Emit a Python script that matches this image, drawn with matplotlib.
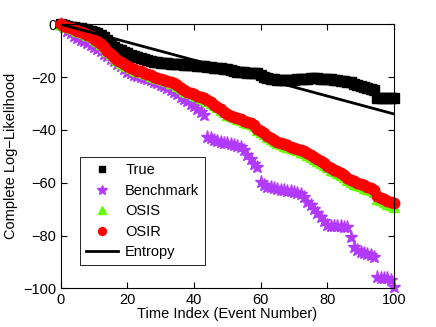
import numpy as np
import matplotlib
matplotlib.use('Agg')
import matplotlib.pyplot as plt

plt.rcParams['font.family'] = ['Liberation Sans', 'DejaVu Sans']

# Time index (event number)
t = np.arange(101)

true_ll = [0, -0.3, -0.6, -0.9, -1.1, -1.4, -1.6, -1.9, -2.2, -2.5,
           -3.0, -3.5, -4.0, -5.0, -6.0, -7.2, -8.5, -9.2, -9.9, -10.4,
           -11.0, -11.5, -12.0, -12.4, -12.9, -13.3, -13.6, -13.9, -14.2, -14.3,
           -14.5, -14.6, -14.8, -14.9, -15.0, -15.1, -15.2, -15.3, -15.4, -15.5,
           -15.6, -15.7, -15.9, -16.0, -16.1, -16.2, -16.4, -16.5, -16.7, -16.9,
           -17.1, -17.4, -17.7, -18.0, -18.1, -18.2, -18.3, -18.4, -18.5, -18.6,
           -19.2, -20.0, -20.5, -20.7, -20.9, -21.0, -21.0, -21.1, -21.1, -21.0,
           -21.0, -20.9, -20.8, -20.7, -20.6, -20.5, -20.4, -20.5, -20.6, -20.7,
           -20.8, -20.9, -21.0, -21.2, -21.4, -21.5, -21.7, -22.0, -22.5, -23.0,
           -23.4, -23.8, -24.1, -24.5, -25.0, -28.0, -28.0, -28.1, -28.1, -28.0,
           -28.0]

benchmark = [0, -1.2, -2.5, -3.5, -4.5, -5.2, -5.8, -6.4, -7.0, -7.8,
             -8.5, -9.3, -10.2, -11.1, -12.0, -13.0, -14.0, -15.0, -16.0, -17.0,
             -18.0, -18.6, -19.1, -19.6, -20.0, -20.4, -20.8, -21.2, -21.7, -22.3,
             -22.9, -23.5, -24.0, -24.8, -25.7, -26.6, -27.4, -28.3, -29.2, -30.1,
             -31.0, -32.2, -33.4, -34.4, -42.6, -43.2, -43.8, -44.2, -44.6, -44.8,
             -45.0, -45.4, -45.9, -46.2, -46.4, -47.8, -49.5, -51.2, -53.0, -54.0,
             -59.6, -60.8, -61.5, -61.8, -62.0, -62.3, -62.6, -62.8, -63.0, -63.2,
             -63.4, -63.7, -64.1, -65.5, -67.2, -68.5, -70.0, -71.6, -73.0, -74.5,
             -76.0, -76.2, -76.3, -76.4, -76.5, -76.6, -76.7, -80.5, -84.2, -85.3,
             -86.1, -86.7, -87.1, -87.5, -88.0, -95.8, -96.0, -96.1, -96.2, -97.0,
             -99.4]

osis = [0, -0.5, -1.0, -1.5, -2.0, -2.5, -3.0, -3.4, -3.9, -4.6,
        -5.5, -6.5, -7.6, -8.8, -10.0, -11.3, -12.5, -13.6, -14.5, -15.3,
        -16.0, -16.6, -17.2, -17.7, -18.0, -18.5, -19.0, -19.5, -20.0, -20.4,
        -20.8, -21.2, -21.6, -22.1, -22.4, -23.3, -24.2, -25.1, -25.7, -26.2,
        -26.7, -27.2, -27.8, -28.3, -28.9, -29.7, -30.6, -31.5, -32.4, -33.3,
        -34.2, -34.8, -35.3, -35.8, -36.3, -36.9, -37.5, -37.9, -38.7, -39.9,
        -40.9, -41.7, -42.6, -43.4, -44.2, -44.9, -45.5, -46.0, -46.4, -46.9,
        -47.3, -47.8, -48.2, -48.6, -49.4, -50.2, -50.9, -51.7, -52.5, -53.3,
        -54.2, -55.0, -55.7, -56.3, -57.0, -58.0, -59.1, -59.8, -60.3, -60.8,
        -61.4, -61.9, -62.4, -62.9, -63.5, -66.0, -66.7, -67.4, -68.0, -68.6,
        -69.2]

osir = [0, -0.5, -1.0, -1.5, -2.0, -2.5, -3.0, -3.4, -3.9, -4.6,
        -5.5, -6.5, -7.6, -8.8, -10.0, -11.3, -12.5, -13.5, -14.4, -15.2,
        -15.9, -16.5, -17.1, -17.6, -17.9, -18.4, -18.9, -19.4, -19.9, -20.3,
        -20.7, -21.1, -21.5, -22.0, -22.3, -23.2, -24.1, -25.0, -25.5, -26.0,
        -26.5, -27.0, -27.6, -28.1, -28.7, -29.5, -30.4, -31.3, -32.2, -33.1,
        -34.0, -34.6, -35.0, -35.5, -36.0, -36.6, -37.2, -37.5, -38.3, -39.5,
        -40.5, -41.3, -42.2, -43.0, -43.8, -44.5, -45.0, -45.5, -45.9, -46.4,
        -46.8, -47.2, -47.6, -48.0, -48.8, -49.6, -50.2, -51.0, -51.8, -52.6,
        -53.5, -54.3, -55.0, -55.6, -56.2, -57.2, -58.3, -59.0, -59.5, -60.0,
        -60.5, -61.0, -61.5, -62.0, -62.6, -65.0, -65.6, -66.2, -66.8, -67.3,
        -67.8]

# Entropy reference line: endpoints
entropy_t = [0, 100]
entropy = [0, -34]

fig = plt.figure(figsize=(4.36, 3.27), dpi=100)
ax = fig.add_axes([0.139, 0.118, 0.765, 0.808])

ax.plot(t, true_ll, 's', color='black', markersize=6.5, label='True', clip_on=False)
ax.plot(t, benchmark, '*', color='#B23AFF', markersize=9.5, label='Benchmark', clip_on=False)
ax.plot(t, osis, '^', color='#66FF00', markersize=7, label='OSIS', clip_on=False)
ax.plot(t, osir, 'o', color='#FF0000', markersize=7.5, label='OSIR', clip_on=False)
ax.plot(entropy_t, entropy, '-', color='black', linewidth=2, label='Entropy')

ax.set_xlim(0, 100)
ax.set_ylim(-100, 0)
ax.set_xticks([0, 20, 40, 60, 80, 100])
ax.set_yticks([-100, -80, -60, -40, -20, 0])
ax.set_yticklabels(['\u2212100', '\u221280', '\u221260', '\u221240', '\u221220', '0'])
ax.tick_params(direction='in', top=True, right=True, length=4, labelsize=10.5, pad=3)
for s in ax.spines.values():
    s.set_linewidth(0.8)

ax.set_xlabel('Time Index (Event Number)', fontsize=10.5, labelpad=0)
ax.set_ylabel('Complete Log\u2212Likelihood', fontsize=10.5, labelpad=4)

leg = ax.legend(loc='lower left', bbox_to_anchor=(0.058, 0.088), borderaxespad=0,
                fontsize=10.5, fancybox=False, edgecolor='black', framealpha=1,
                markerscale=0.75, handlelength=2.2, labelspacing=0.45,
                borderpad=0.4, handletextpad=0.5)
leg.get_frame().set_linewidth(0.6)

fig.savefig('out.png', dpi=100)
